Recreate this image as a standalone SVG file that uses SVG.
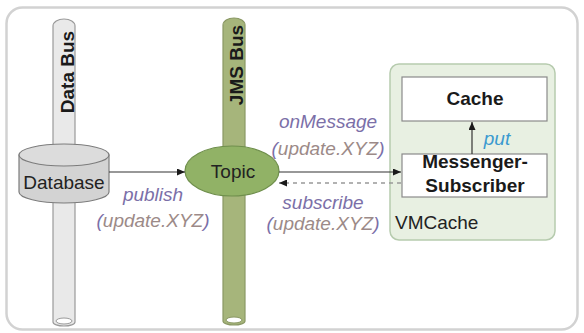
<svg xmlns="http://www.w3.org/2000/svg" width="584" height="333" viewBox="0 0 584 333">
  <defs>
    <marker id="arrow" markerUnits="userSpaceOnUse" markerWidth="8" markerHeight="7" refX="8" refY="3.5" orient="auto">
      <path d="M0,0 L8,3.5 L0,7 Z" fill="#1a1a1a"/>
    </marker>
    <style>
      text { font-family: "Liberation Sans", Arial, sans-serif; }
      .frame { fill: #ffffff; stroke: #d2d2d2; stroke-width: 2.5; }
      .bus-grey { fill: #e9e9e9; stroke: #9a9a9a; stroke-width: 1.2; }
      .bus-green { fill: #a6b57b; stroke: #8a9864; stroke-width: 1.2; }
      .bus-hole { fill: #ffffff; stroke: #9a9a9a; stroke-width: 1; }
      .bus-label { font-size: 19px; font-weight: bold; fill: #1a1a1a; text-anchor: middle; }
      .db { fill: #d3d3d3; stroke: #7c7c7c; stroke-width: 1.2; }
      .db-top { fill: #dcdcdc; stroke: #7c7c7c; stroke-width: 1.2; }
      .topic { fill: #91b266; stroke: #6f8f4c; stroke-width: 1.2; }
      .node-label { font-size: 19px; fill: #222222; text-anchor: middle; }
      .container { fill: #e8f0e2; stroke: #b6cbae; stroke-width: 1.5; }
      .box { fill: #ffffff; stroke: #8a8a8a; stroke-width: 1.2; }
      .box-label { font-size: 19px; font-weight: bold; fill: #1a1a1a; text-anchor: middle; }
      .edge { stroke: #333333; stroke-width: 1.2; fill: none; }
      .edge-dash { stroke: #999999; stroke-width: 1.5; stroke-dasharray: 4 4; fill: none; }
      .msg { font-size: 19px; font-style: italic; fill: #7b6fa8; text-anchor: middle; }
      .arg { fill: #9c8a88; }
      .put { font-size: 19px; font-style: italic; fill: #3a9ad0; text-anchor: middle; }
    </style>
  </defs>

  <rect class="frame" x="6.5" y="7.5" width="571" height="322" rx="16"/>

  <!-- Data Bus pipe -->
  <g id="data-bus">
    <path class="bus-grey" d="M53,322 V26 A11,7 0 0 1 75,26 V322 A11,4 0 0 1 53,322 Z"/>
    <ellipse class="bus-hole" cx="64" cy="321" rx="8" ry="3"/>
    <text class="bus-label" transform="translate(74,72) rotate(-90)">Data Bus</text>
  </g>

  <!-- JMS Bus pipe -->
  <g id="jms-bus">
    <path class="bus-green" d="M223,321 V25 A11,7 0 0 1 245,25 V321 A11,4 0 0 1 223,321 Z"/>
    <ellipse class="bus-hole" cx="234" cy="320" rx="8" ry="3" style="stroke:#8a9864"/>
    <text class="bus-label" transform="translate(243,65) rotate(-90)">JMS Bus</text>
  </g>

  <!-- Database cylinder -->
  <g id="database">
    <path class="db" d="M19,155 V192 A45,11 0 0 0 109,192 V155 Z"/>
    <ellipse class="db-top" cx="64" cy="155" rx="45" ry="11"/>
    <text class="node-label" x="64" y="189">Database</text>
  </g>

  <!-- Topic -->
  <g id="topic">
    <ellipse class="topic" cx="232" cy="171" rx="47" ry="25"/>
    <text class="node-label" x="233" y="178">Topic</text>
  </g>

  <!-- VMCache container -->
  <g id="vmcache">
    <rect class="container" x="390" y="64" width="165" height="176" rx="9"/>
    <text x="395" y="229" style="font-size:19px;fill:#222222">VMCache</text>
  </g>

  <g id="cache">
    <rect class="box" x="402" y="77" width="145" height="44"/>
    <text class="box-label" x="475" y="105">Cache</text>
  </g>

  <g id="messenger-subscriber">
    <rect class="box" x="402" y="154" width="145" height="43"/>
    <text class="box-label" x="475" y="168">Messenger-</text>
    <text class="box-label" x="475" y="192">Subscriber</text>
  </g>

  <!-- connectors -->
  <g id="connectors">
    <line class="edge" x1="109" y1="172" x2="185" y2="172" marker-end="url(#arrow)"/>
    <line class="edge" x1="279" y1="172" x2="401" y2="172" marker-end="url(#arrow)"/>
    <line class="edge-dash" x1="401" y1="183" x2="279" y2="183" marker-end="url(#arrow)"/>
    <line class="edge" x1="472" y1="154" x2="472" y2="122" marker-end="url(#arrow)"/>

    <text class="msg" x="153" y="201">publish</text>
    <text class="msg" x="153" y="227">(<tspan class="arg">update.XYZ</tspan>)</text>

    <text class="msg" x="328" y="128">onMessage</text>
    <text class="msg" x="328" y="155">(<tspan class="arg">update.XYZ</tspan>)</text>

    <text class="msg" x="323" y="209">subscribe</text>
    <text class="msg" x="323" y="230">(<tspan class="arg">update.XYZ</tspan>)</text>

    <text class="put" x="497" y="145">put</text>
  </g>
</svg>
